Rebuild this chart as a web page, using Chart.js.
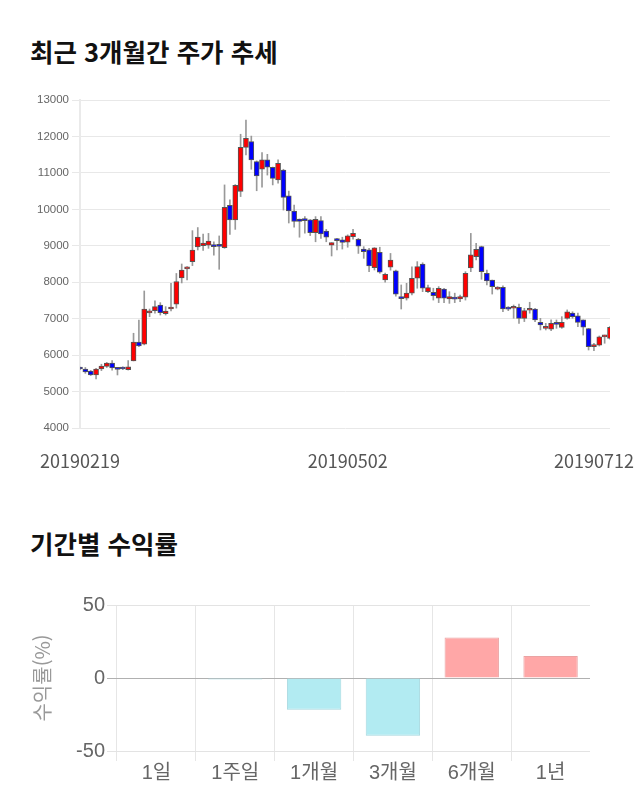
<!DOCTYPE html>
<html lang="ko">
<head>
<meta charset="utf-8">
<title>주가 추세 / 기간별 수익률</title>
<script src="https://cdn.jsdelivr.net/npm/chart.js@4.4.1/dist/chart.umd.min.js"></script>
<style>
  html, body { margin: 0; padding: 0; background: #fff; }
  body { width: 640px; height: 810px; position: relative; overflow: hidden; }
  .title {
    position: absolute; left: 30px;
    font: bold 25.5px "Noto Sans CJK KR", sans-serif;
    line-height: 30px; color: #111;
  }
  canvas { position: absolute; left: 0; }
</style>
</head>
<body>
<div class="title" style="top:36px">최근 3개월간 주가 추세</div>
<canvas id="priceChart" width="640" height="390" style="top:90px"></canvas>
<div class="title" style="top:528px">기간별 수익률</div>
<canvas id="returnChart" width="640" height="210" style="top:590px"></canvas>

<script>
// 거래일 (2019-02-19 ~ 2019-07-12)
const tradeDates = [
  '20190219','20190220','20190221','20190222','20190225','20190226','20190227','20190228',
  '20190304','20190305','20190306','20190307','20190308','20190311','20190312','20190313','20190314','20190315',
  '20190318','20190319','20190320','20190321','20190322','20190325','20190326','20190327','20190328','20190329',
  '20190401','20190402','20190403','20190404','20190405','20190408','20190409','20190410','20190411','20190412',
  '20190415','20190416','20190417','20190418','20190419','20190422','20190423','20190424','20190425','20190426',
  '20190429','20190430',
  '20190502','20190503','20190507','20190508','20190509','20190510','20190513','20190514','20190515','20190516',
  '20190517','20190520','20190521','20190522','20190523','20190524','20190527','20190528','20190529','20190530',
  '20190531',
  '20190603','20190604','20190605','20190607','20190610','20190611','20190612','20190613','20190614',
  '20190617','20190618','20190619','20190620','20190621','20190624','20190625','20190626','20190627','20190628',
  '20190701','20190702','20190703','20190704','20190705','20190708','20190709','20190710','20190711','20190712'
];
// x축에 표시할 날짜
const xTickDates = ['20190219', '20190502', '20190712'];

// 시가 / 고가 / 저가 / 종가
const openPx = [
  5650,5620,5565,5455,5620,5690,5780,5630,5670,5600, 5840,6360,6300,7160,7220,7370,7140,7265,7400,8115,
  8365,8565,8970,9005,9020,9030,8995,8950,10110,9710, 10490,11700,11860,11310,11100,11355,11155,10805,11080,10370,
  9955,9735,9735,9710,9360,9690,9405,9020,9200,9160, 9100,9250,9180,8910,8890,8400,8820,8060,8410,8310,
  7605,7560,7700,8110,8500,7740,7725,7560,7810,7540, 7590,7540,7590,8390,8700,8975,8245,8060,7810,7860,
  7280,7285,7310,7010,7230,7265,6900,6735,6710,6900, 6760,7010,7150,7075,6965,6725,6235,6275,6500,6460
];
const highPx = [
  5670,5660,5580,5640,5750,5800,5850,5665,5680,5850, 6600,6960,7760,7265,7490,7440,7330,7970,8240,8500,
  8430,9415,9500,9320,9340,9110,9270,10670,10260,10680, 12060,12450,12010,11330,11555,11510,11160,11355,11100,10500,
  10120,9735,9800,9720,9800,9800,9450,9085,9205,9235, 9300,9450,9205,8975,8930,8950,8960,8250,8790,8335,
  7925,7970,8425,8565,8535,7925,7835,7880,7835,7740, 7700,7650,8290,9340,9070,8990,8335,8060,7880,7900,
  7330,7375,7400,7285,7450,7285,7010,6870,6965,6965, 7055,7240,7190,7150,6965,6735,6325,6525,6550,6790
];
const lowPx = [
  5600,5500,5440,5345,5575,5660,5590,5455,5600,5590, 5840,6230,6280,7055,7150,7100,7100,7210,7290,7980,
  8060,8455,8885,8870,8930,8745,8355,8930,9315,9450, 10350,11490,11100,10510,10605,10940,10670,10715,9980,9625,
  9510,9235,9345,9280,9110,9200,9110,8720,8885,8910, 8960,9180,8790,8655,8290,8335,8245,8000,8330,7620,
  7265,7510,7650,7835,7740,7715,7510,7440,7440,7420, 7440,7465,7510,8290,8610,8080,7925,7675,7790,7190,
  7220,7010,6870,6920,7150,6920,6690,6690,6670,6735, 6735,6985,7010,6780,6550,6140,6120,6250,6325,6440
];
const closePx = [
  5620,5540,5455,5620,5700,5780,5650,5610,5620,5680, 6360,6250,7265,7180,7330,7165,7210,7310,8020,8335,
  8420,8885,9240,9075,9130,8975,8985,10055,9710,10660, 11700,11950,11355,10915,11355,11155,10850,11265,10330,9955,
  9665,9665,9690,9360,9725,9325,9235,9085,9140,9095, 9270,9340,8990,8840,8445,8945,8275,8215,8610,7675,
  7550,7700,8110,8430,7835,7850,7630,7835,7560,7605, 7535,7605,8245,8750,8900,8290,8035,7880,7865,7265,
  7260,7295,7010,7220,7245,6965,6825,6780,6870,6845, 6900,7190,7055,6900,6765,6235,6275,6505,6510,6765
];

// 기간별 수익률 (%)
const periodLabels = ['1일', '1주일', '1개월', '3개월', '6개월', '1년'];
const periodReturns = [0, -1.0, -21.8, -39.5, 27.8, 15.1];

const UP_COLOR = '#ff0000';
const DOWN_COLOR = '#0000ff';
const KR_FONT = '"Noto Sans CJK KR", sans-serif';
const NUM_FONT = '"Liberation Sans", "Noto Sans CJK KR", sans-serif';

// x축 날짜 라벨 (캔버스 오른쪽 밖으로 나가지 않게 보정)
const dateLabelPlugin = {
  id: 'dateLabels',
  afterDraw(chart) {
    const ctx = chart.ctx;
    const xs = chart.scales.x;
    ctx.save();
    ctx.font = '18px ' + KR_FONT;
    ctx.fillStyle = '#555';
    ctx.textAlign = 'center';
    ctx.textBaseline = 'middle';
    xTickDates.forEach(d => {
      const idx = tradeDates.indexOf(d);
      if (idx < 0) return;
      const w = ctx.measureText(d).width;
      let px = xs.getPixelForValue(idx);
      px = Math.min(px, chart.width - 6 - w / 2);
      px = Math.max(px, w / 2 + 4);
      ctx.fillText(d, px, chart.chartArea.bottom + 33);
    });
    ctx.restore();
  }
};

function drawPriceChart() {
  const bodyColors = openPx.map((o, i) => closePx[i] >= o ? UP_COLOR : DOWN_COLOR);

  return new Chart(document.getElementById('priceChart'), {
    type: 'bar',
    data: {
      labels: tradeDates,
      datasets: [
        {
          // 몸통
          data: openPx.map((o, i) => [o, closePx[i]]),
          backgroundColor: bodyColors,
          borderColor: '#555',
          borderWidth: 1,
          borderSkipped: false,
          barThickness: 5,
          minBarLength: 2,
          grouped: false,
          order: 0
        },
        {
          // 꼬리
          data: lowPx.map((l, i) => [l, highPx[i]]),
          backgroundColor: '#999',
          barThickness: 1,
          grouped: false,
          order: 1
        }
      ]
    },
    options: {
      responsive: false,
      animation: false,
      layout: { padding: { top: 10, right: 30 } },
      plugins: { legend: { display: false }, tooltip: { enabled: false } },
      scales: {
        x: {
          offset: false,
          grid: { display: false },
          border: { display: false },
          ticks: { display: false },
          afterFit: s => { s.height = 52; }
        },
        y: {
          min: 4000,
          max: 13000,
          ticks: {
            stepSize: 1000,
            color: '#666',
            padding: 3,
            font: { family: NUM_FONT, size: 11.5 },
            callback: v => String(v)
          },
          grid: { color: '#e8e8e8', tickLength: 8 },
          border: { color: '#eaeaea', width: 2 },
          afterFit: s => { s.width = 80; }
        }
      }
    },
    plugins: [dateLabelPlugin]
  });
}

function drawReturnChart() {
  return new Chart(document.getElementById('returnChart'), {
    type: 'bar',
    data: {
      labels: periodLabels,
      datasets: [{
        data: periodReturns,
        backgroundColor: periodReturns.map(v => v >= 0 ? '#ffa7a7' : '#b2ebf2'),
        borderColor: periodReturns.map(v => v >= 0 ? '#eaa3a3' : '#a5d7de'),
        borderWidth: 1,
        barPercentage: 0.69,
        categoryPercentage: 1
      }]
    },
    options: {
      responsive: false,
      animation: false,
      layout: { padding: { top: 15, right: 50 } },
      plugins: { legend: { display: false }, tooltip: { enabled: false } },
      scales: {
        x: {
          grid: {
            offset: true,
            tickLength: 10,
            color: c => c.tick ? '#e6e6e6' : 'rgba(0,0,0,0)'
          },
          border: { display: false },
          ticks: { color: '#666', padding: 0, font: { family: NUM_FONT, size: 20 } },
          afterFit: s => { s.height = 49; }
        },
        y: {
          min: -50,
          max: 50,
          ticks: { stepSize: 50, color: '#666', padding: 2, font: { family: NUM_FONT, size: 20 } },
          grid: {
            tickLength: 10,
            color: c => (c.tick && c.tick.value === 0) ? '#b0b0b0' : '#e3e3e3'
          },
          border: { display: false },
          title: {
            display: true,
            text: '수익률(%)',
            color: '#999',
            padding: { top: 30, bottom: 0 },
            font: { family: KR_FONT, size: 20 }
          },
          afterFit: s => { s.width = 117; }
        }
      }
    }
  });
}

drawPriceChart();
drawReturnChart();
</script>
</body>
</html>
